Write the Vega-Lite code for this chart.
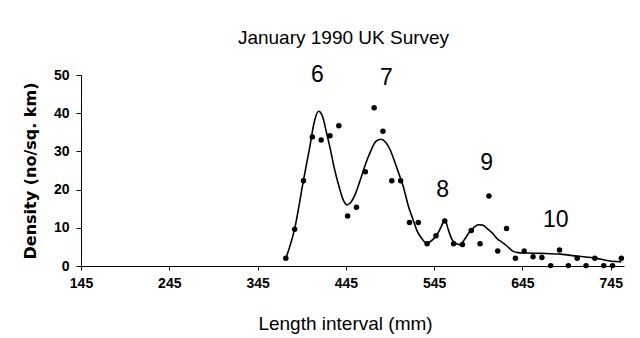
{
  "$schema": "https://vega.github.io/schema/vega-lite/v6.json",
  "width": 543,
  "height": 191,
  "autosize": {"type": "none"},
  "padding": {"left": 81, "top": 75, "right": 16, "bottom": 72},
  "background": "white",
  "config": {
    "view": {"stroke": null},
    "font": "Liberation Sans"
  },
  "title": {
    "text": "January 1990 UK Survey",
    "font": "Liberation Sans",
    "fontSize": 19,
    "fontWeight": "normal",
    "color": "black",
    "anchor": "middle",
    "dx": -9,
    "offset": 16
  },
  "datasets": {
    "dots": [
      {"length": 377, "density": 2.0},
      {"length": 387, "density": 9.6},
      {"length": 397, "density": 22.3},
      {"length": 407, "density": 33.8},
      {"length": 417, "density": 33.0},
      {"length": 427, "density": 34.1},
      {"length": 437, "density": 36.7},
      {"length": 447, "density": 13.1},
      {"length": 457, "density": 15.4},
      {"length": 467, "density": 24.7},
      {"length": 477, "density": 41.4},
      {"length": 487, "density": 35.3},
      {"length": 497, "density": 22.3},
      {"length": 507, "density": 22.3},
      {"length": 517, "density": 11.4},
      {"length": 527, "density": 11.4},
      {"length": 537, "density": 5.8},
      {"length": 547, "density": 7.9},
      {"length": 557, "density": 11.8},
      {"length": 567, "density": 5.8},
      {"length": 577, "density": 5.6},
      {"length": 587, "density": 9.3},
      {"length": 597, "density": 5.8},
      {"length": 607, "density": 18.3},
      {"length": 617, "density": 3.9},
      {"length": 627, "density": 9.8},
      {"length": 637, "density": 2.0},
      {"length": 647, "density": 3.9},
      {"length": 657, "density": 2.4},
      {"length": 667, "density": 2.2},
      {"length": 677, "density": 0.1},
      {"length": 687, "density": 4.2},
      {"length": 697, "density": 0.1},
      {"length": 707, "density": 2.0},
      {"length": 717, "density": 0.1},
      {"length": 727, "density": 2.0},
      {"length": 737, "density": 0.1},
      {"length": 747, "density": 0.1},
      {"length": 757, "density": 2.0}
    ],
    "curve": [
      {"length": 377, "density": 2.0},
      {"length": 387, "density": 9.8},
      {"length": 397, "density": 22.5},
      {"length": 404, "density": 31.0},
      {"length": 409, "density": 37.5},
      {"length": 414, "density": 40.5},
      {"length": 418, "density": 39.5},
      {"length": 423, "density": 35.0},
      {"length": 427, "density": 31.0},
      {"length": 432, "density": 25.5},
      {"length": 437, "density": 21.0},
      {"length": 442, "density": 17.3},
      {"length": 446, "density": 16.0},
      {"length": 450, "density": 16.5},
      {"length": 456, "density": 19.0},
      {"length": 462, "density": 23.0},
      {"length": 467, "density": 26.5},
      {"length": 473, "density": 30.0},
      {"length": 479, "density": 32.6},
      {"length": 485, "density": 33.2},
      {"length": 490, "density": 32.4},
      {"length": 495, "density": 30.5},
      {"length": 500, "density": 27.5},
      {"length": 505, "density": 24.2},
      {"length": 510, "density": 20.8},
      {"length": 516, "density": 15.5},
      {"length": 521, "density": 12.2},
      {"length": 526, "density": 9.0},
      {"length": 531, "density": 7.2},
      {"length": 536, "density": 6.0},
      {"length": 540, "density": 6.3},
      {"length": 545, "density": 7.3},
      {"length": 549, "density": 8.5},
      {"length": 553, "density": 10.3},
      {"length": 557, "density": 12.2},
      {"length": 561, "density": 9.5},
      {"length": 565, "density": 7.0},
      {"length": 569, "density": 6.0},
      {"length": 574, "density": 5.6},
      {"length": 579, "density": 6.8},
      {"length": 584, "density": 8.6},
      {"length": 590, "density": 10.1},
      {"length": 595, "density": 10.8},
      {"length": 600, "density": 10.7},
      {"length": 605, "density": 9.8},
      {"length": 611, "density": 8.6},
      {"length": 617, "density": 7.0},
      {"length": 622, "density": 6.2},
      {"length": 627, "density": 5.3},
      {"length": 634, "density": 3.9},
      {"length": 640, "density": 3.5},
      {"length": 650, "density": 3.4},
      {"length": 665, "density": 3.3},
      {"length": 688, "density": 3.1},
      {"length": 706, "density": 2.6},
      {"length": 729, "density": 2.0},
      {"length": 744, "density": 1.3},
      {"length": 757, "density": 1.1}
    ],
    "labels": [
      {"length": 412.6, "density": 50.0, "label": "6"},
      {"length": 491, "density": 49.1, "label": "7"},
      {"length": 554.5, "density": 19.9, "label": "8"},
      {"length": 604.3, "density": 26.9, "label": "9"},
      {"length": 682.8, "density": 12.0, "label": "10"}
    ]
  },
  "encoding": {
    "x": {
      "field": "length",
      "type": "quantitative",
      "scale": {"domain": [145, 760], "nice": false, "zero": false},
      "axis": {
        "values": [145, 245, 345, 445, 545, 645, 745],
        "grid": false,
        "domainColor": "black",
        "tickColor": "black",
        "tickSize": 4,
        "labelFont": "Liberation Sans",
        "labelFontSize": 14,
        "labelFontWeight": "bold",
        "labelColor": "black",
        "labelPadding": 6,
        "labelFlush": false,
        "labelOverlap": false,
        "title": "Length interval (mm)",
        "titleFont": "Liberation Sans",
        "titleFontSize": 19,
        "titleFontWeight": "normal",
        "titleColor": "black",
        "titlePadding": 24,
        "titleX": 264
      }
    },
    "y": {
      "field": "density",
      "type": "quantitative",
      "scale": {"domain": [0, 50], "nice": false},
      "axis": {
        "values": [0, 10, 20, 30, 40, 50],
        "grid": false,
        "domainColor": "black",
        "tickColor": "black",
        "tickSize": 5,
        "labelFont": "Liberation Sans",
        "labelFontSize": 14,
        "labelFontWeight": "bold",
        "labelColor": "black",
        "labelPadding": 7,
        "labelFlush": false,
        "labelOverlap": false,
        "title": "Density (no/sq. km)",
        "titleFont": "DejaVu Sans",
        "titleFontSize": 16,
        "titleFontWeight": "bold",
        "titleColor": "black",
        "titlePadding": 15
      }
    }
  },
  "layer": [
    {
      "data": {"name": "curve"},
      "mark": {"type": "line", "color": "black", "strokeWidth": 1.6, "interpolate": "monotone"}
    },
    {
      "data": {"name": "dots"},
      "mark": {"type": "circle", "color": "black", "opacity": 1, "size": 30}
    },
    {
      "data": {"name": "labels"},
      "mark": {"type": "text", "color": "black", "font": "Liberation Sans", "fontSize": 23, "fontWeight": "normal", "baseline": "middle", "align": "center"},
      "encoding": {
        "text": {"field": "label"}
      }
    }
  ]
}
